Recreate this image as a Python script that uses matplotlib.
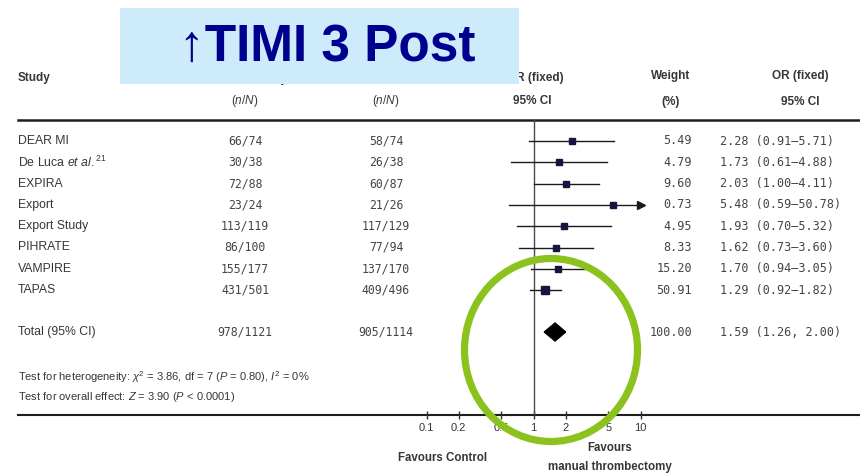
import matplotlib
matplotlib.use("Agg")
import matplotlib.pyplot as plt
from matplotlib.patches import Rectangle, Ellipse, Polygon
from matplotlib.ticker import FixedLocator, FixedFormatter, NullLocator

# data #####################################################################
studies = ['DEAR MI', r'De Luca $\mathit{et\ al.}$$^{21}$', 'EXPIRA', 'Export',
           'Export Study', 'PIHRATE', 'VAMPIRE', 'TAPAS']
treat = ['66/74', '30/38', '72/88', '23/24', '113/119', '86/100', '155/177', '431/501']
control = ['58/74', '26/38', '60/87', '21/26', '117/129', '77/94', '137/170', '409/496']
weight = [5.49, 4.79, 9.60, 0.73, 4.95, 8.33, 15.20, 50.91]
odds = [2.28, 1.73, 2.03, 5.48, 1.93, 1.62, 1.70, 1.29]
ci_low = [0.91, 0.61, 1.00, 0.59, 0.70, 0.73, 0.94, 0.92]
ci_high = [5.71, 4.88, 4.11, 50.78, 5.32, 3.60, 3.05, 1.82]

total_treat = '978/1121'
total_control = '905/1114'
total_weight = 100.00
total_or = 1.59
total_low = 1.26
total_high = 2.00

axis_ticks = [0.1, 0.2, 0.5, 1, 2, 5, 10]
axis_labels = ['0.1', '0.2', '0.5', '1', '2', '5', '10']

# fonts ####################################################################
plt.rcParams['font.family'] = ['Liberation Sans', 'DejaVu Sans']
plt.rcParams['mathtext.fontset'] = 'custom'
plt.rcParams['mathtext.rm'] = 'Liberation Sans'
plt.rcParams['mathtext.it'] = 'Liberation Sans:italic'
plt.rcParams['mathtext.bf'] = 'Liberation Sans:bold'

txt = '#363636'
num = '#444444'
mono = 'DejaVu Sans Mono'

fig = plt.figure(figsize=(8.6, 4.76), dpi=100)

# main axes in pixel units, used for the table text
ax = fig.add_axes([0, 0, 1, 1])
ax.set_xlim(0, 860)
ax.set_ylim(476, 0)
ax.axis('off')

row_y = [141 + 21.3 * i for i in range(len(studies))]
total_y = 332

# header
ax.text(18, 78, 'Study', fontsize=8.5, fontweight='bold', color=txt, va='center')
ax.text(245, 79, 'Thrombectomy', fontsize=8.5, fontweight='bold', color=txt, ha='center', va='center')
ax.text(386, 79, 'Control', fontsize=8.5, fontweight='bold', color=txt, ha='center', va='center')
ax.text(535, 78, 'OR (fixed)', fontsize=8.5, fontweight='bold', color=txt, ha='center', va='center')
ax.text(671, 76, 'Weight', fontsize=8.5, fontweight='bold', color=txt, ha='center', va='center')
ax.text(800, 76, 'OR (fixed)', fontsize=8.5, fontweight='bold', color=txt, ha='center', va='center')
ax.text(245, 101, r'($\mathit{n/N}$)', fontsize=8.5, color=txt, ha='center', va='center')
ax.text(386, 101, r'($\mathit{n/N}$)', fontsize=8.5, color=txt, ha='center', va='center')
ax.text(532, 101, '95% CI', fontsize=8.5, fontweight='bold', color=txt, ha='center', va='center')
ax.text(671, 102, '(%)', fontsize=8.5, fontweight='bold', color=txt, ha='center', va='center')
ax.text(800, 102, '95% CI', fontsize=8.5, fontweight='bold', color=txt, ha='center', va='center')

ax.plot([18, 860], [120, 120], color='#1e1e1e', lw=1.8)
ax.plot([18, 860], [415, 415], color='#1e1e1e', lw=1.5)

# study rows
for i, name in enumerate(studies):
    y = row_y[i]
    ax.text(18, y, name, fontsize=8.8, color=txt, va='center')
    ax.text(245, y, treat[i], fontsize=8.3, family=mono, color=num, ha='center', va='center')
    ax.text(386, y, control[i], fontsize=8.3, family=mono, color=num, ha='center', va='center')
    ax.text(692, y, f'{weight[i]:.2f}', fontsize=8.5, family=mono, color=num, ha='right', va='center')
    ax.text(720, y, f'{odds[i]:.2f} ({ci_low[i]:.2f}\u2013{ci_high[i]:.2f})', fontsize=8.5,
            family=mono, color=num, ha='left', va='center')

ax.text(18, total_y, 'Total (95% CI)', fontsize=8.8, color=txt, va='center')
ax.text(245, total_y, total_treat, fontsize=8.3, family=mono, color=num, ha='center', va='center')
ax.text(386, total_y, total_control, fontsize=8.3, family=mono, color=num, ha='center', va='center')
ax.text(692, total_y, f'{total_weight:.2f}', fontsize=8.5, family=mono, color=num, ha='right', va='center')
ax.text(720, total_y, f'{total_or:.2f} ({total_low:.2f}, {total_high:.2f})', fontsize=8.5,
        family=mono, color=num, ha='left', va='center')

ax.text(18, 377, r'Test for heterogeneity: $\chi^2$ = 3.86, df = 7 ($P$ = 0.80), $I^2$ = 0%',
        fontsize=8, color=txt, va='center')
ax.text(18, 397, r'Test for overall effect: $Z$ = 3.90 ($P$ < 0.0001)',
        fontsize=8, color=txt, va='center')

ax.text(443, 458, 'Favours Control', fontsize=8.3, fontweight='bold', color=txt, ha='center', va='center')
ax.text(610, 448, 'Favours', fontsize=8.3, fontweight='bold', color=txt, ha='center', va='center')
ax.text(610, 467, 'manual thrombectomy', fontsize=8.3, fontweight='bold', color=txt, ha='center', va='center')

# forest axes: log scale, same pixel rows
ax2 = fig.add_axes([426.5 / 860, (476 - 415) / 476, 214 / 860, (415 - 120) / 476])
ax2.set_xscale('log')
ax2.set_xlim(0.1, 10)
ax2.set_ylim(415, 120)
ax2.patch.set_alpha(0)
for s in ax2.spines.values():
    s.set_visible(False)
ax2.yaxis.set_visible(False)
ax2.xaxis.set_major_locator(FixedLocator(axis_ticks))
ax2.xaxis.set_major_formatter(FixedFormatter(axis_labels))
ax2.xaxis.set_minor_locator(NullLocator())
ax2.tick_params(axis='x', direction='inout', length=6, width=1, color='#333333',
                labelsize=8, labelcolor=txt, pad=3)

ax2.axvline(1, color='#4a4a4a', lw=1)

for i in range(len(studies)):
    y = row_y[i]
    ax2.plot([ci_low[i], ci_high[i]], [y, y], color='#1a1a1a', lw=1)
    ax2.plot(odds[i], y, marker='s', color='#15153f', ms=(5.3 + 0.06 * weight[i]) * 0.72)
    if ci_high[i] > 10:
        ax2.plot(10, y, marker='>', color='#1a1a1a', ms=6, clip_on=False)

ax2.add_patch(Polygon([(total_low, total_y), (total_or, total_y - 9),
                       (total_high, total_y), (total_or, total_y + 9)],
                      closed=True, color='black'))

# overlay: title box and green highlight ring
ax3 = fig.add_axes([0, 0, 1, 1])
ax3.set_xlim(0, 860)
ax3.set_ylim(476, 0)
ax3.axis('off')
ax3.patch.set_alpha(0)
ax3.add_patch(Rectangle((120, 8), 399, 76, facecolor='#cdebfb', edgecolor='none'))
ax3.text(327, 47, '\u2191TIMI 3 Post', fontsize=37, fontweight='bold', color='#00008f',
         ha='center', va='center')
ax3.add_patch(Ellipse((551, 350), 173, 183, facecolor='none', edgecolor='#8cc21e', lw=5.2))

fig.savefig('out.png', dpi=100)
